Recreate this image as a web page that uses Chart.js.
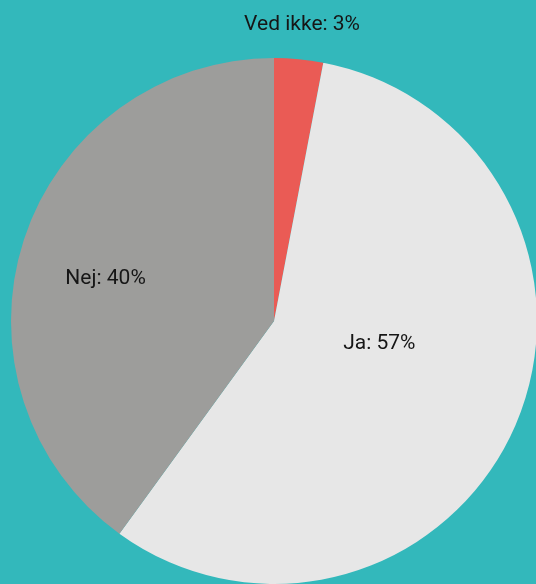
<!DOCTYPE html>
<html>
<head>
<meta charset="utf-8">
<script src="https://cdn.jsdelivr.net/npm/chart.js@4"></script>
<style>
  html, body { margin: 0; padding: 0; background: #33b8bb; overflow: hidden; }
  canvas { display: block; }
</style>
</head>
<body>
<canvas id="c" width="536" height="584"></canvas>
<script>
const categories = ["Ved ikke", "Ja", "Nej"];
const values = [3, 57, 40];
const valueLabels = ["3%", "57%", "40%"];
const colors = ["#ea5b55", "#e7e7e7", "#9d9d9b"];

// label placement: offset from slice mid angle (deg) and radius fraction
const labelPlacement = [
  { angle: 0, radius: 1.133 },
  { angle: -11, radius: 0.41 },
  { angle: -4, radius: 0.66 }
];

const labelPlugin = {
  id: 'sliceLabels',
  afterDatasetsDraw(chart) {
    const ctx = chart.ctx;
    const meta = chart.getDatasetMeta(0);
    ctx.save();
    ctx.font = '21px Roboto, "Open Sans", sans-serif';
    ctx.fillStyle = '#161616';
    ctx.textAlign = 'center';
    ctx.textBaseline = 'middle';
    meta.data.forEach((arc, i) => {
      const p = arc.getProps(['x', 'y', 'startAngle', 'endAngle', 'outerRadius'], true);
      const mid = (p.startAngle + p.endAngle) / 2 + labelPlacement[i].angle * Math.PI / 180;
      const r = p.outerRadius * labelPlacement[i].radius;
      const x = p.x + Math.cos(mid) * r;
      const y = p.y + Math.sin(mid) * r;
      ctx.fillText(categories[i] + ': ' + valueLabels[i], x, y);
    });
    ctx.restore();
  }
};

new Chart(document.getElementById('c'), {
  type: 'pie',
  data: {
    labels: categories,
    datasets: [{
      data: values,
      backgroundColor: colors,
      borderWidth: 0,
      radius: 263,
      clip: false
    }]
  },
  options: {
    responsive: false,
    animation: false,
    layout: { padding: { left: 12, top: 58, right: 0, bottom: 0 } },
    plugins: {
      legend: { display: false },
      tooltip: { enabled: false },
      title: { display: false }
    }
  },
  plugins: [labelPlugin]
});
</script>
</body>
</html>
